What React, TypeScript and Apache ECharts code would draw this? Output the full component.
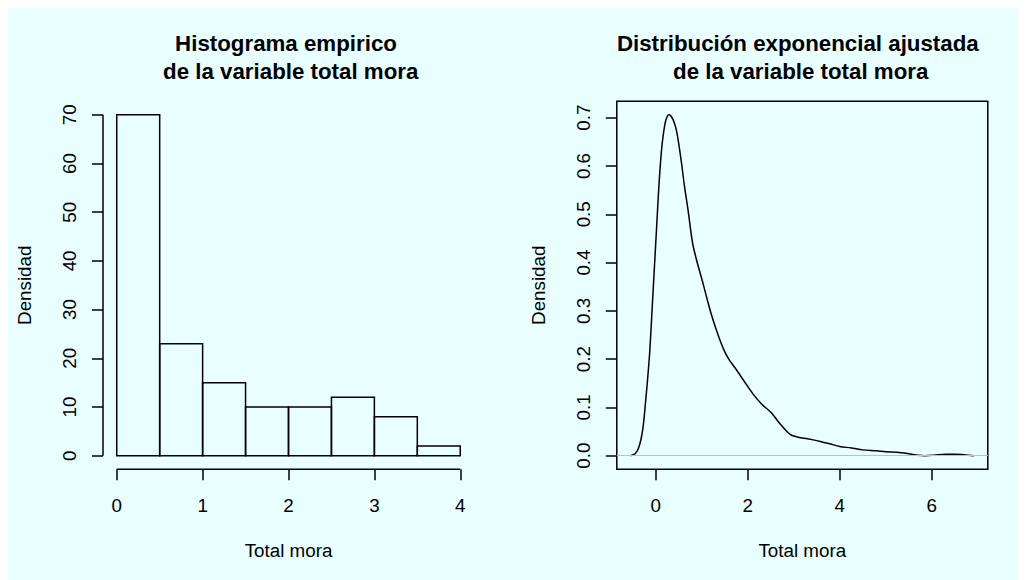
import React, { useEffect, useRef } from "react";
import * as echarts from "echarts";

// Histogram: bin edges and heights
const binEdges = [0, 0.5, 1, 1.5, 2, 2.5, 3, 3.5, 4];
const binCounts = [70, 23, 15, 10, 10, 12, 8, 2];
const histXTicks = [0, 1, 2, 3, 4];
const histYTicks = [0, 10, 20, 30, 40, 50, 60, 70];

// Fitted density curve
const densityX = [
  -0.55, -0.45, -0.38, -0.32, -0.27, -0.22, -0.18, -0.13, -0.08, -0.03, 0.02, 0.06,
  0.1, 0.14, 0.2, 0.25, 0.29, 0.34, 0.4, 0.46, 0.55, 0.62, 0.7, 0.8, 0.9, 1.0, 1.1,
  1.2, 1.3, 1.4, 1.5, 1.6, 1.76, 1.95, 2.12, 2.3, 2.52, 2.7, 2.92, 3.1, 3.3, 3.6, 3.8,
  4.0, 4.25, 4.5, 4.8, 5.0, 5.25, 5.5, 5.7, 5.85, 6.05, 6.3, 6.5, 6.7, 6.92,
];
const densityY = [
  0.0, 0.004, 0.015, 0.035, 0.065, 0.115, 0.157, 0.219, 0.305, 0.392, 0.478, 0.548,
  0.605, 0.648, 0.688, 0.703, 0.706, 0.702, 0.69, 0.668, 0.612, 0.56, 0.509, 0.44, 0.4,
  0.366, 0.33, 0.295, 0.265, 0.238, 0.215, 0.198, 0.177, 0.15, 0.127, 0.107, 0.088,
  0.066, 0.044, 0.038, 0.035, 0.029, 0.024, 0.019, 0.016, 0.012, 0.01, 0.008, 0.007,
  0.004, 0.001, 0.0, 0.001, 0.003, 0.003, 0.002, 0.0,
];
const densXTicks = [0, 2, 4, 6];
const densYTicks = [0, 0.1, 0.2, 0.3, 0.4, 0.5, 0.6, 0.7];

const FONT = "'Liberation Sans', Arial, Helvetica, sans-serif";
const INK = "#000000";
const BG = "#E9FEFE";
const LABEL_SIZE = 18.8;

// Plot ranges padded by 4% like base graphics
const pad = (lo: number, hi: number) => {
  const d = (hi - lo) * 0.04;
  return [lo - d, hi + d];
};
const [hxMin, hxMax] = pad(binEdges[0], binEdges[binEdges.length - 1]);
const [hyMin, hyMax] = pad(0, Math.max(...binCounts));
const [dxMin, dxMax] = pad(densityX[0], densityX[densityX.length - 1]);
const [dyMin, dyMax] = pad(0, Math.max(...densityY));

const tickStyle = (values: number[]) => ({
  show: true,
  inside: false,
  customValues: values,
  length: 11,
  lineStyle: { color: INK, width: 1.5 },
});

const labelStyle = (values: number[], margin: number, rotate = 0, fmt?: (v: number) => string) => ({
  show: true,
  customValues: values,
  margin,
  rotate,
  color: INK,
  fontSize: LABEL_SIZE,
  fontFamily: FONT,
  formatter: fmt ? (v: number) => fmt(v) : undefined,
});

const nameText = { color: INK, fontSize: LABEL_SIZE, fontFamily: FONT };
const hiddenLine = { show: false, onZero: false };

export default function App() {
  const ref = useRef<HTMLDivElement>(null);

  useEffect(() => {
    document.body.style.overflow = "hidden";
    if (!ref.current) return;
    const chart = echarts.init(ref.current, null, { renderer: "svg" });

    const titleLine = (text: string, x: number, y: number) => ({
      type: "text",
      x,
      y,
      style: {
        text,
        fill: INK,
        font: `bold 22.3px ${FONT}`,
        align: "center",
        verticalAlign: "middle",
        textAlign: "center",
        textVerticalAlign: "middle",
      },
    });

    chart.setOption({
      animation: false,
      backgroundColor: BG,
      grid: [
        { left: 95, top: 93.2, width: 371, height: 368.1, show: false },
        {
          left: 608.8,
          top: 93.2,
          width: 371,
          height: 368.1,
          show: true,
          borderColor: INK,
          borderWidth: 1.5,
          backgroundColor: "transparent",
        },
      ],
      xAxis: [
        {
          type: "value",
          gridIndex: 0,
          min: hxMin,
          max: hxMax,
          axisLine: hiddenLine,
          axisTick: tickStyle(histXTicks),
          axisLabel: labelStyle(histXTicks, 27),
          splitLine: { show: false },
          name: "Total mora",
          nameLocation: "middle",
          nameGap: 72,
          nameTextStyle: nameText,
        },
        {
          type: "value",
          gridIndex: 1,
          min: dxMin,
          max: dxMax,
          axisLine: hiddenLine,
          axisTick: tickStyle(densXTicks),
          axisLabel: labelStyle(densXTicks, 27),
          splitLine: { show: false },
          name: "Total mora",
          nameLocation: "middle",
          nameGap: 72,
          nameTextStyle: nameText,
        },
      ],
      yAxis: [
        {
          type: "value",
          gridIndex: 0,
          min: hyMin,
          max: hyMax,
          axisLine: hiddenLine,
          axisTick: tickStyle(histYTicks),
          axisLabel: labelStyle(histYTicks, 24, 90),
          splitLine: { show: false },
          name: "Densidad",
          nameLocation: "middle",
          nameRotate: 90,
          nameGap: 69,
          nameTextStyle: nameText,
        },
        {
          type: "value",
          gridIndex: 1,
          min: dyMin,
          max: dyMax,
          axisLine: hiddenLine,
          axisTick: tickStyle(densYTicks),
          axisLabel: labelStyle(densYTicks, 24, 90, (v) => v.toFixed(1)),
          splitLine: { show: false },
          name: "Densidad",
          nameLocation: "middle",
          nameRotate: 90,
          nameGap: 69,
          nameTextStyle: nameText,
        },
      ],
      series: [
        {
          type: "custom",
          xAxisIndex: 0,
          yAxisIndex: 0,
          data: binCounts.map((c, i) => [binEdges[i], binEdges[i + 1], c]),
          encode: { x: [0, 1], y: 2 },
          renderItem: (_p: any, api: any) => {
            const top = api.coord([api.value(0), api.value(2)]);
            const bottom = api.coord([api.value(1), 0]);
            return {
              type: "rect",
              shape: {
                x: top[0],
                y: top[1],
                width: bottom[0] - top[0],
                height: bottom[1] - top[1],
              },
              style: { fill: "none", stroke: INK, lineWidth: 1.5 },
            };
          },
        },
        // x axis line spanning the first to last tick
        {
          type: "line",
          xAxisIndex: 0,
          yAxisIndex: 0,
          clip: false,
          symbol: "none",
          silent: true,
          lineStyle: { color: INK, width: 1.5 },
          data: [
            [histXTicks[0], hyMin],
            [histXTicks[histXTicks.length - 1], hyMin],
          ],
        },
        // y axis line spanning the first to last tick
        {
          type: "line",
          xAxisIndex: 0,
          yAxisIndex: 0,
          clip: false,
          symbol: "none",
          silent: true,
          lineStyle: { color: INK, width: 1.5 },
          data: [
            [hxMin, histYTicks[0]],
            [hxMin, histYTicks[histYTicks.length - 1]],
          ],
        },
        {
          type: "line",
          xAxisIndex: 1,
          yAxisIndex: 1,
          symbol: "none",
          smooth: 0.3,
          lineStyle: { color: INK, width: 1.5 },
          data: densityX.map((x, i) => [x, densityY[i]]),
          markLine: {
            silent: true,
            symbol: "none",
            label: { show: false },
            lineStyle: { color: "#B4C3CE", width: 1.2, type: "solid" },
            data: [{ yAxis: 0 }],
          },
        },
      ],
      graphic: [
        titleLine("Histograma empirico", 278, 35),
        titleLine("de la variable total mora", 282.7, 63),
        titleLine("Distribución exponencial ajustada", 789.8, 35),
        titleLine("de la variable total mora", 792.7, 63),
      ],
    });

    return () => chart.dispose();
  }, []);

  return <div ref={ref} style={{ width: 1018, height: 572 }} />;
}
